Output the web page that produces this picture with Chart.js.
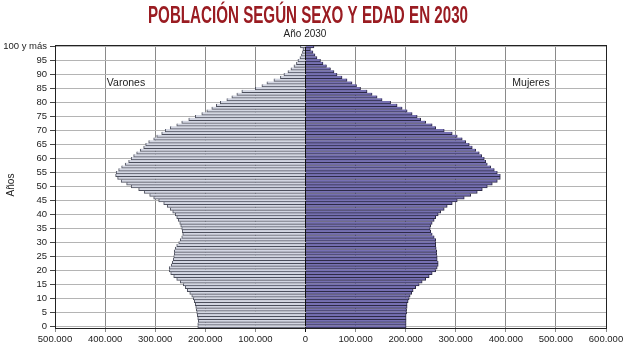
<!DOCTYPE html>
<html>
<head>
<meta charset="utf-8">
<script src="https://cdn.jsdelivr.net/npm/chart.js@4/dist/chart.umd.min.js"></script>
<style>
  html, body { margin: 0; padding: 0; background: #fff; }
  canvas { display: block; }
</style>
</head>
<body>
<canvas id="piramide" width="627" height="352"></canvas>
<script>
// Edades 0..100 (la última es "100 y más")
const edades = [];
for (let i = 0; i <= 100; i++) edades.push(i === 100 ? '100 y más' : String(i));

// Población estimada por edad (miles)
const varones = [
    215, 215, 214, 215, 216, 217, 218, 219, 220, 222,
    224, 227, 231, 236, 240, 244, 250, 257, 263, 269,
    272, 272, 268, 266, 264, 263, 262, 262, 260, 257,
    253, 250, 247, 245, 246, 247, 249, 251, 254, 257,
    260, 265, 270, 276, 283, 293, 303, 311, 322, 333,
    348, 357, 368, 375, 379, 378, 373, 367, 360, 353,
    348, 343, 337, 330, 323, 319, 313, 303, 297, 287,
    280, 270, 257, 247, 233, 220, 207, 197, 187, 178,
    170, 157, 147, 137, 127, 100, 87, 77, 63, 50,
    43, 35, 29, 23, 18, 15, 11, 8, 6, 5,
    10
];
const mujeres = [
    201, 201, 201, 201, 201, 202, 202, 203, 203, 205,
    207, 209, 212, 215, 220, 227, 233, 240, 247, 253,
    260, 263, 265, 265, 263, 263, 262, 262, 261, 260,
    260, 260, 257, 253, 250, 249, 250, 253, 257, 260,
    265, 270, 277, 283, 293, 303, 317, 330, 343, 353,
    363, 373, 383, 389, 389, 383, 377, 370, 363, 360,
    357, 352, 347, 340, 333, 327, 320, 313, 303, 293,
    277, 260, 253, 240, 230, 223, 213, 203, 193, 183,
    170, 153, 143, 133, 123, 110, 102, 93, 83, 73,
    63, 57, 50, 42, 35, 30, 23, 19, 15, 10,
    17
];

const titulo = 'POBLACIÓN SEGÚN SEXO Y EDAD EN 2030';
const subtitulo = 'Año 2030';

// Textos extra: título, subtítulo, etiquetas y marco
const textosPlugin = {
    id: 'textos',
    afterDraw(chart) {
        const ctx = chart.ctx;
        const area = chart.chartArea;
        ctx.save();

        // marco del área de trazado
        ctx.strokeStyle = '#222';
        ctx.lineWidth = 1;
        ctx.strokeRect(Math.round(area.left) + 0.5, Math.round(area.top) + 0.5,
            Math.round(area.right - area.left), Math.round(area.bottom - area.top));

        // título condensado
        ctx.font = 'bold 23px "Liberation Sans Narrow", "Liberation Sans", sans-serif';
        const w = ctx.measureText(titulo).width;
        const escala = 320 / w;
        ctx.fillStyle = '#9a1c22';
        ctx.textBaseline = 'middle';
        ctx.textAlign = 'center';
        ctx.translate(308, 17);
        ctx.scale(escala, 1);
        ctx.fillText(titulo, 0, 0);
        ctx.setTransform(1, 0, 0, 1, 0, 0);

        ctx.fillStyle = '#222';
        ctx.font = '10px "Liberation Sans", sans-serif';
        ctx.fillText(subtitulo, 305, 34);

        ctx.font = '10.5px "Liberation Sans", sans-serif';
        ctx.fillText('Varones', 126, 83);
        ctx.fillText('Mujeres', 531, 83);

        ctx.translate(11, 185);
        ctx.rotate(-Math.PI / 2);
        ctx.font = '10px "Liberation Sans", sans-serif';
        ctx.fillText('Años', 0, 0);
        ctx.restore();
    }
};

const ctx = document.getElementById('piramide').getContext('2d');
new Chart(ctx, {
    type: 'bar',
    data: {
        labels: edades,
        datasets: [{
            label: 'Varones',
            data: varones.map(v => -v * 1000),
            backgroundColor: '#d3d6e2',
            borderColor: '#4c4f5c',
            borderWidth: { top: 0, bottom: 1, left: 1, right: 0 },
            borderSkipped: false,
            barPercentage: 1,
            categoryPercentage: 1
        }, {
            label: 'Mujeres',
            data: mujeres.map(v => v * 1000),
            backgroundColor: '#7670b2',
            borderColor: '#2d2a46',
            borderWidth: { top: 0, bottom: 1, left: 0, right: 1 },
            borderSkipped: false,
            barPercentage: 1,
            categoryPercentage: 1
        }]
    },
    options: {
        indexAxis: 'y',
        responsive: false,
        animation: false,
        layout: { padding: { left: 0, right: 21, top: 45, bottom: 0 } },
        plugins: {
            legend: { display: false },
            tooltip: { enabled: false }
        },
        scales: {
            x: {
                stacked: true,
                min: -500000,
                max: 600000,
                afterFit(scale) { scale.height = 24; },
                ticks: {
                    stepSize: 100000,
                    maxRotation: 0,
                    color: '#222',
                    padding: 2,
                    font: { family: '"Liberation Sans", sans-serif', size: 9.5 },
                    callback: v => Math.abs(v).toLocaleString('de-DE')
                },
                grid: {
                    color: c => c.tick && c.tick.value === 0 ? '#111' : '#8a8a8a',
                    tickLength: 4
                },
                border: { color: '#222' }
            },
            y: {
                stacked: true,
                reverse: true,
                afterFit(scale) { scale.width = 55; },
                ticks: {
                    autoSkip: false,
                    color: '#222',
                    padding: 3,
                    font: { family: '"Liberation Sans", sans-serif', size: 9.5 },
                    callback: (v, i) => i % 5 === 0 ? edades[i] : ''
                },
                grid: {
                    offset: false,
                    color: c => c.index % 5 === 0 ? '#b4b4b4' : 'rgba(0,0,0,0)',
                    tickColor: c => c.index % 5 === 0 ? '#444' : 'rgba(0,0,0,0)',
                    tickLength: 5
                },
                border: { color: '#222' }
            }
        }
    },
    plugins: [textosPlugin]
});
</script>
</body>
</html>
